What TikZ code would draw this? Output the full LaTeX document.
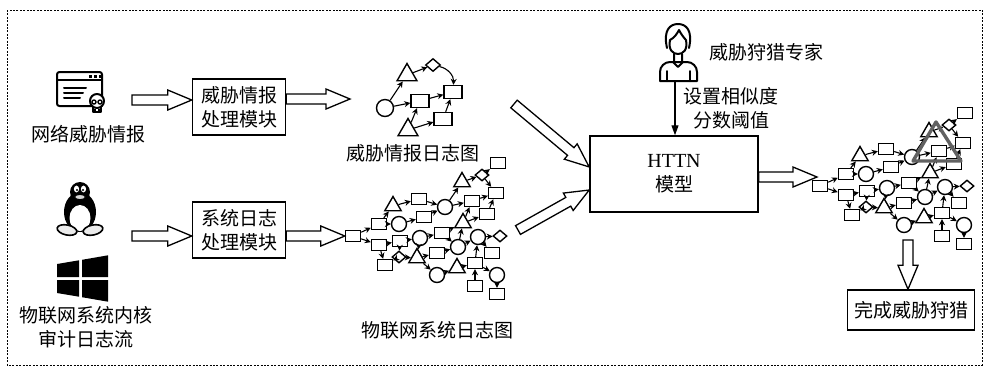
\documentclass[tikz,border=0pt]{standalone}
\usepackage{fontspec}
\setmainfont{Liberation Serif}
\newfontfamily\cjk{Noto Sans CJK SC}
\usetikzlibrary{shapes.geometric, arrows.meta, positioning, calc}
\tikzset{
    modbox/.style={rectangle, draw, line width=0.75pt, align=center, inner sep=0pt, minimum width=46.5pt, minimum height=28pt},
    lrect/.style={rectangle, draw, fill=white, line width=0.7pt, inner sep=0pt, minimum width=7.5pt, minimum height=5.5pt},
    lcirc/.style={circle, draw, fill=white, line width=0.7pt, inner sep=0pt, minimum size=7.5pt},
    ltri/.style={regular polygon, regular polygon sides=3, draw, fill=white, line width=0.7pt, inner sep=0pt, minimum size=9.5pt},
    ldiam/.style={diamond, draw, fill=white, line width=0.7pt, inner sep=0pt, minimum width=7pt, minimum height=6pt},
    ledge/.style={-{Stealth[length=3pt, width=3pt]}, line width=0.55pt},
    hollow/.style={draw, fill=white, line width=0.65pt, line join=miter, to path={
        let \p1=(\tikztostart), \p2=(\tikztotarget),
            \n1={atan2(\y2-\y1,\x2-\x1)}, \n2={veclen(\x2-\x1,\y2-\y1)} in
        {[shift={(\p1)}, rotate=\n1]
            (0pt,2.5pt) -- ({\n2*1pt-12pt},2.5pt) -- ({\n2*1pt-12pt},5pt) -- ({\n2*1pt},0pt)
            -- ({\n2*1pt-12pt},-5pt) -- ({\n2*1pt-12pt},-2.5pt) -- (0pt,-2.5pt) -- cycle}}},
    thinarrow/.style={-{Triangle[length=5pt, width=3.5pt]}, line width=0.6pt},
    icon/.style={line width=1pt, line cap=round, line join=round},
    hilite/.style={draw=black!62, line width=1.7pt, line join=round},
    frame/.style={line width=0.5pt, dash pattern=on 1pt off 0.7pt}
}

% system audit log graph, #1 = name prefix
\newcommand{\syslog}[1]{%
    \foreach \n/\s/\x/\y in {1/lrect/353/236, 2/lrect/379/224, 3/lrect/379/245, 4/ltri/393/206,
        5/lcirc/399/224, 6/lrect/419/199, 7/lrect/424/217, 8/lcirc/445/207, 9/ltri/462/182,
        10/ldiam/482/175, 11/lrect/498/163, 12/lrect/496/193, 13/lrect/472/201, 14/lrect/487/214,
        15/ltri/463/223, 16/lrect/442/233, 17/lcirc/420/238, 18/lrect/400/241, 19/ldiam/399/257,
        20/lrect/385/265, 21/ltri/417/258, 22/lrect/437/253, 23/lcirc/458/247, 24/lcirc/478/237,
        25/ldiam/500/236, 26/lrect/492/253, 27/lcirc/437/275, 28/ltri/457/268, 29/lrect/475/263,
        30/lrect/475/286, 31/lcirc/497/275, 32/lrect/497/294}
        \node[\s] (#1\n) at (\x,\y) {};
    \foreach \a/\b in {1/2, 1/3, 2/4, 2/5, 4/6, 5/7, 6/8, 7/8, 8/9, 8/13, 9/10, 10/11, 10/12,
        13/12, 14/12, 15/13, 15/14, 3/18, 3/20, 18/17, 17/16, 16/15, 18/19, 19/21, 17/21, 21/22,
        22/23, 16/23, 23/15, 23/24, 24/25, 24/26, 21/27, 27/28, 28/29, 29/24, 30/29, 29/31,
        31/32, 19/20}
        \draw[ledge] (#1\a) -- (#1\b);
}

\begin{document}
\begin{tikzpicture}[x=0.5pt, y=-0.5pt, font=\cjk\fontsize{9.5}{12}\selectfont]
    \useasboundingbox (0,0) rectangle (987,372);
    \draw[frame] (7,10) rectangle (982,365);

    % web threat intelligence icon
    \draw[icon, rounded corners=1.2pt] (57,72) rectangle (102,106);
    \draw[icon] (57,80) -- (102,80);
    \fill (89,75) rectangle (92,78);
    \fill (94,75) rectangle (97,78);
    \fill (98.5,75) rectangle (100.5,78);
    \draw[icon] (64,88) -- (86,88) (64,93) -- (83,93) (64,98) -- (80,98);
    \draw[icon, fill=white] (93,107) rectangle (101,112);
    \draw[icon, fill=white] (97,101) circle[radius=7];
    \draw[line width=0.7pt] (94,102) circle[radius=2] (100,102) circle[radius=2];
    \draw[line width=0.6pt] (95,109) -- (95,112) (99,109) -- (99,112);
    \node (web) at (80,92) [minimum width=24pt, minimum height=22pt] {};
    \node (weblabel) at (89,134) {网络威胁情报};

    % linux penguin
    \fill (80,192) circle[radius=10];
    \fill (80,212) ellipse[x radius=16, y radius=20];
    \fill[white] (80,218) ellipse[x radius=10.5, y radius=13];
    \fill[white] (76.5,189) ellipse[x radius=2.6, y radius=3.4];
    \fill[white] (83.5,189) ellipse[x radius=2.6, y radius=3.4];
    \fill (77,190) circle[radius=1.2];
    \fill (83,190) circle[radius=1.2];
    \draw[fill=black!15, line width=0.5pt] (80,197) ellipse[x radius=5.5, y radius=2.6];
    \draw[fill=black!8, line width=0.8pt, rotate around={-12:(67,230)}] (67,230) ellipse[x radius=10, y radius=5];
    \draw[fill=black!8, line width=0.8pt, rotate around={12:(93,230)}] (93,230) ellipse[x radius=10, y radius=5];

    % windows logo
    \fill (57,264) -- (79,260.3) -- (79,277) -- (57,277) -- cycle;
    \fill (82,259.8) -- (108,255.3) -- (108,277) -- (82,277) -- cycle;
    \fill (57,280) -- (79,280) -- (79,296.7) -- (57,293) -- cycle;
    \fill (82,280) -- (108,280) -- (108,301.7) -- (82,297.2) -- cycle;
    \node[align=center] (oslabel) at (86,327) {物联网系统内核\\审计日志流};

    % processing modules
    \node[modbox] (tiproc) at (239,107) {威胁情报\\处理模块};
    \node[modbox] (sysproc) at (239,230) {系统日志\\处理模块};

    \coordinate (webout) at (132,100);
    \coordinate (osout) at (132,236);
    \draw[hollow] (webout) to (tiproc.west |- webout);
    \draw[hollow] (osout) to (sysproc.west |- osout);

    % threat intelligence graph
    \begin{scope}[lrect/.append style={minimum width=9pt, minimum height=6.5pt},
                  lcirc/.append style={minimum size=8.5pt},
                  ltri/.append style={minimum size=11.5pt},
                  ldiam/.append style={minimum width=7.5pt, minimum height=6.5pt}]
        \foreach \n/\s/\x/\y in {1/lcirc/385/108, 2/ltri/407/75, 3/ldiam/433/65, 4/lrect/420/101,
            5/lrect/453/92, 6/lrect/443/119, 7/ltri/408/130}
            \node[\s] (t\n) at (\x,\y) {};
        \foreach \a/\b in {1/2, 1/4, 2/3, 4/5, 6/5, 7/4, 7/6}
            \draw[ledge] (t\a) -- (t\b);
        \draw[ledge] (t3) to[bend left=40] (t5);
    \end{scope}
    \node (tilabel) at (413,153) {威胁情报日志图};

    % system log graph
    \syslog{s}
    \node (syslabel) at (437,330) {物联网系统日志图};

    \coordinate (tigin) at (350,99);
    \draw[hollow] (tiproc.east |- tigin) to (tigin);
    \draw[hollow] (sysproc.east |- s1) to (s1.west);

    % HTTN model and expert
    \node[modbox, minimum width=84pt, minimum height=38pt] (httn) at (674,174) {{\rmfamily\fontsize{10}{12}\selectfont HTTN}\\模型};

    \draw[icon] (667,48) .. controls (663,30) and (670,24) .. (678,24) .. controls (686,24) and (693,30) .. (689,48);
    \draw[icon] (670,40) .. controls (668,50) and (673,54) .. (678,54) .. controls (683,54) and (688,50) .. (686,40);
    \draw[icon] (670,40) .. controls (674,38) and (677,34) .. (679,30) .. controls (681,34) and (684,38) .. (686,40);
    \draw[icon] (660,81) [rounded corners=5pt] -- (660,62) -- (697,62) [sharp corners] -- (697,81) -- cycle;
    \draw[icon] (673,62) -- (678,67) -- (683,62) (674,54) -- (674,62) (682,54) -- (682,62);
    \draw[icon] (667,71) -- (667,81) (690,71) -- (690,81);
    \node (expert) at (677,52) [minimum width=19pt, minimum height=29pt, inner sep=0pt] {};
    \node (explabel) [right=3pt of expert] {威胁狩猎专家};

    \draw[thinarrow] ([xshift=-1pt]expert.south) -- ([xshift=-1pt]httn.north -| expert.south);
    \node[align=center] (thrlabel) at (731,108) {设置相似度\\分数阈值};

    \coordinate (tigout) at (514,104);
    \coordinate (sysout) at (518,230);
    \draw[hollow] (tigout) to ([yshift=3.5pt]httn.west);
    \draw[hollow] (sysout) to ([yshift=-8pt]httn.west);

    % hunting result on the log graph
    \begin{scope}[shift={(467,-50)}]
        \syslog{h}
    \end{scope}
    \draw[hilite] (936,122) -- (913,161) -- (961,161) -- cycle;

    \coordinate (httnout) at (817,177);
    \draw[hollow] ([yshift=-1.5pt]httn.east) to (httnout);

    \node[modbox, minimum width=63.5pt, minimum height=20pt] (done) at (911,310) {完成威胁狩猎};
    \coordinate (huntout) at (908,240);
    \draw[hollow] (huntout) to (done.north -| huntout);
\end{tikzpicture}
\end{document}
